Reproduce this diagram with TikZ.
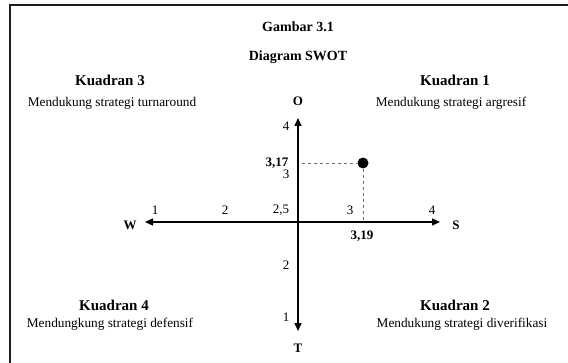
\documentclass[tikz,border=0pt]{standalone}
\usepackage{fontspec}
\setmainfont{Liberation Serif}
\usepackage{xcolor}
\definecolor{framegray}{RGB}{30,30,30}
\definecolor{dashgray}{RGB}{110,110,110}
\usetikzlibrary{positioning,arrows.meta,calc}
\tikzset{
  headlab/.style={font=\fontsize{14}{16}\selectfont\bfseries,inner sep=1pt},
  kuadlab/.style={font=\fontsize{15}{17}\selectfont\bfseries,inner sep=1pt},
  quadlab/.style={font=\fontsize{13.3}{15}\selectfont,inner sep=1pt},
  ticklab/.style={font=\fontsize{13}{14}\selectfont,inner sep=1pt},
  vallab/.style={font=\fontsize{13}{14}\selectfont\bfseries,inner sep=1pt},
  axlab/.style={font=\fontsize{13}{15}\selectfont\bfseries,inner sep=1pt},
  axarr/.style={-{Triangle[length=8pt,width=7pt]},line width=1.4pt,draw=black},
  guide/.style={dashed,draw=dashgray,line width=0.6pt},
}
\begin{document}
\begin{tikzpicture}[x=1pt,y=1pt]
  \useasboundingbox (0,0) rectangle (568,362);
  \clip (0,0) rectangle (568,362);
  % --- bingkai ---
  \draw[framegray,line width=2pt] (10,-20) -- (10,357) -- (600,357);
  % --- judul ---
  \node[headlab] (judul1) at (298,335) {Gambar 3.1};
  \node[headlab] (judul2) at (298,305) {Diagram SWOT};
  % --- kuadran ---
  \node[kuadlab] (K3) at (110,282) {Kuadran 3};
  \node[quadlab] (K3t) at (112,259) {Mendukung strategi turnaround};
  \node[kuadlab] (K1) at (455,282) {Kuadran 1};
  \node[quadlab] (K1t) at (451,259) {Mendukung strategi argresif};
  \node[kuadlab] (K4) at (114,57) {Kuadran 4};
  \node[quadlab] (K4t) at (110,38) {Mendungkung strategi defensif};
  \node[kuadlab] (K2) at (455,57) {Kuadran 2};
  \node[quadlab] (K2t) at (462,38) {Mendukung strategi diverifikasi};
  % --- sumbu ---
  \coordinate (pusat) at (298,140);
  \coordinate (ujungW) at (145,140);
  \coordinate (ujungS) at (440,140);
  \coordinate (ujungO) at (298,244);
  \coordinate (ujungT) at (298,31);
  \draw[axarr] (pusat) -- (ujungW);
  \draw[axarr] (pusat) -- (ujungS);
  \draw[axarr] (pusat) -- (ujungO);
  \draw[axarr] (pusat) -- (ujungT);
  \node[axlab] (W) at (130,137) {W};
  \node[axlab] (S) at (456,137) {S};
  \node[axlab] (O) at (298,261) {O};
  \node[axlab] (T) at (298,14) {T};
  % --- angka skala ---
  \foreach \name/\x/\lab in {h1/155/1,h2/225/2,h25/281/{2,5},h3/350/3,h4/432/4}{
    \node[ticklab] (\name) at (\x,152) {\lab};}
  \foreach \name/\y/\lab in {v4/236/4,v3/188/3,v2/97/2,v1/45/1}{
    \node[ticklab] (\name) at (286,\y) {\lab};}
  % --- posisi ---
  \node[circle,fill=black,inner sep=0pt,minimum size=11pt] (titik) at (363,199) {};
  \coordinate (kiri) at (302,199);
  \coordinate (bawah) at (363,140);
  \draw[guide] (kiri) -- (titik);
  \draw[guide] (titik) -- (bawah);
  \node[vallab] (nilaiY) at (277,199) {3,17};
  \node[vallab] (nilaiX) at (362,126) {3,19};
\end{tikzpicture}
\end{document}
